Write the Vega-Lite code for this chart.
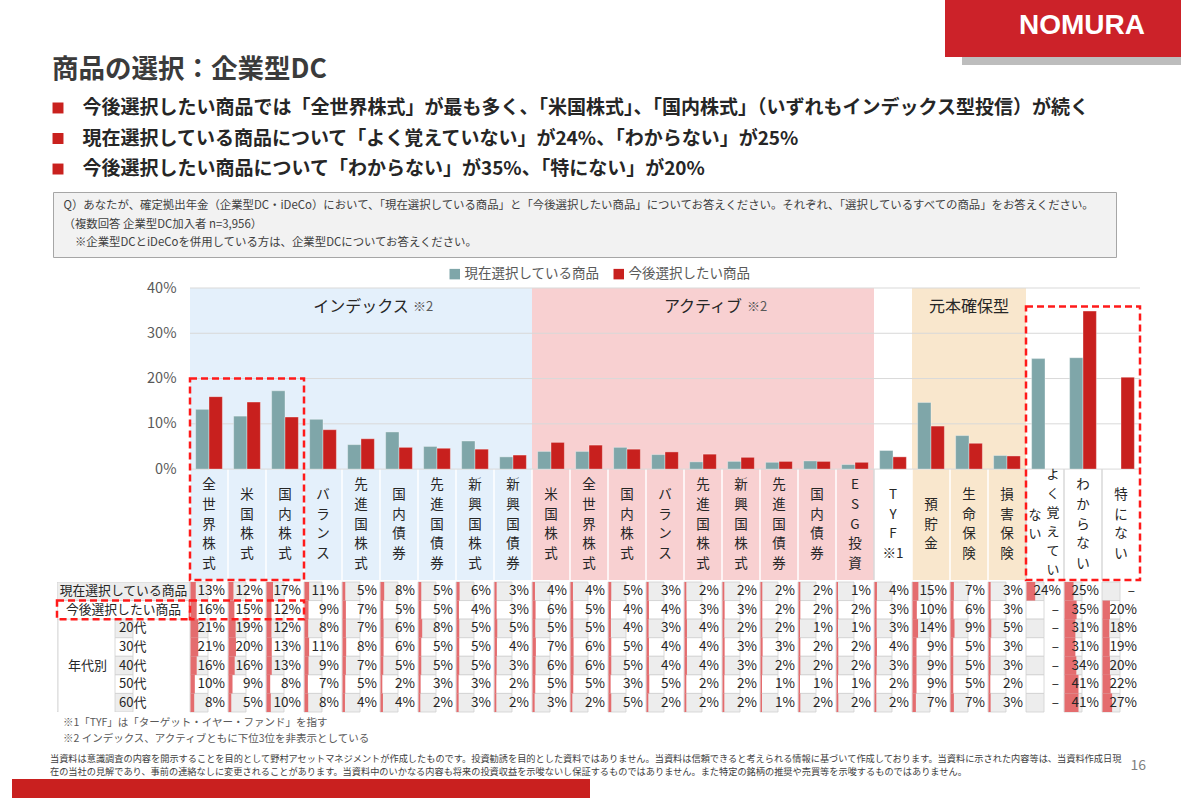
{
"$schema": "https://vega.github.io/schema/vega-lite/v6.json",
"background": "white",
"padding": {"left": 12, "top": 0, "right": 0, "bottom": 0},
"config": {"font": "Noto Sans CJK JP", "view": {"stroke": null}, "axisX": {"disable": true}},
"datasets": {
 "items": [
  {"k":"i1","grp":"idx","lab":"全\n世\n界\n株\n式"},
  {"k":"i2","grp":"idx","lab":"米\n国\n株\n式"},
  {"k":"i3","grp":"idx","lab":"国\n内\n株\n式"},
  {"k":"i4","grp":"idx","lab":"バ\nラ\nン\nス"},
  {"k":"i5","grp":"idx","lab":"先\n進\n国\n株\n式"},
  {"k":"i6","grp":"idx","lab":"国\n内\n債\n券"},
  {"k":"i7","grp":"idx","lab":"先\n進\n国\n債\n券"},
  {"k":"i8","grp":"idx","lab":"新\n興\n国\n株\n式"},
  {"k":"i9","grp":"idx","lab":"新\n興\n国\n債\n券"},
  {"k":"a1","grp":"act","lab":"米\n国\n株\n式"},
  {"k":"a2","grp":"act","lab":"全\n世\n界\n株\n式"},
  {"k":"a3","grp":"act","lab":"国\n内\n株\n式"},
  {"k":"a4","grp":"act","lab":"バ\nラ\nン\nス"},
  {"k":"a5","grp":"act","lab":"先\n進\n国\n株\n式"},
  {"k":"a6","grp":"act","lab":"新\n興\n国\n株\n式"},
  {"k":"a7","grp":"act","lab":"先\n進\n国\n債\n券"},
  {"k":"a8","grp":"act","lab":"国\n内\n債\n券"},
  {"k":"a9","grp":"act","lab":"E\nS\nG\n投\n資"},
  {"k":"t1","grp":"tyf","lab":"T\nY\nF\n※1"},
  {"k":"p1","grp":"prn","lab":"預\n貯\n金"},
  {"k":"p2","grp":"prn","lab":"生\n命\n保\n険"},
  {"k":"p3","grp":"prn","lab":"損\n害\n保\n険"},
  {"k":"o1","grp":"oth","lab":"よ\nく\n覚\nえ\nて\nい","lab2":"な\nい"},
  {"k":"o2","grp":"oth","lab":"わ\nか\nら\nな\nい"},
  {"k":"o3","grp":"oth","lab":"特\nに\nな\nい"}
 ],
 "bars": [
  {"k":"i1","現在選択している商品":13.2,"今後選択したい商品":16.0},
  {"k":"i2","現在選択している商品":11.7,"今後選択したい商品":14.8},
  {"k":"i3","現在選択している商品":17.3,"今後選択したい商品":11.5},
  {"k":"i4","現在選択している商品":11.0,"今後選択したい商品":8.7},
  {"k":"i5","現在選択している商品":5.4,"今後選択したい商品":6.7},
  {"k":"i6","現在選択している商品":8.2,"今後選択したい商品":4.8},
  {"k":"i7","現在選択している商品":5.0,"今後選択したい商品":4.6},
  {"k":"i8","現在選択している商品":6.2,"今後選択したい商品":4.4},
  {"k":"i9","現在選択している商品":2.7,"今後選択したい商品":3.1},
  {"k":"a1","現在選択している商品":3.9,"今後選択したい商品":5.9},
  {"k":"a2","現在選択している商品":3.9,"今後選択したい商品":5.3},
  {"k":"a3","現在選択している商品":4.8,"今後選択したい商品":4.4},
  {"k":"a4","現在選択している商品":3.2,"今後選択したい商品":3.8},
  {"k":"a5","現在選択している商品":1.6,"今後選択したい商品":3.3},
  {"k":"a6","現在選択している商品":1.7,"今後選択したい商品":2.6},
  {"k":"a7","現在選択している商品":1.5,"今後選択したい商品":1.7},
  {"k":"a8","現在選択している商品":1.8,"今後選択したい商品":1.7},
  {"k":"a9","現在選択している商品":1.0,"今後選択したい商品":1.5},
  {"k":"t1","現在選択している商品":4.1,"今後選択したい商品":2.7},
  {"k":"p1","現在選択している商品":14.7,"今後選択したい商品":9.5},
  {"k":"p2","現在選択している商品":7.4,"今後選択したい商品":5.7},
  {"k":"p3","現在選択している商品":3.0,"今後選択したい商品":2.9},
  {"k":"o1","現在選択している商品":24.4,"今後選択したい商品":null},
  {"k":"o2","現在選択している商品":24.6,"今後選択したい商品":34.9},
  {"k":"o3","現在選択している商品":null,"今後選択したい商品":20.3}
 ],
 "table": [
  {"k":"i1","現在選択している商品":0.13,"今後選択したい商品":0.16,"20代":0.21,"30代":0.21,"40代":0.16,"50代":0.10,"60代":0.08},
  {"k":"i2","現在選択している商品":0.12,"今後選択したい商品":0.15,"20代":0.19,"30代":0.20,"40代":0.16,"50代":0.09,"60代":0.05},
  {"k":"i3","現在選択している商品":0.17,"今後選択したい商品":0.12,"20代":0.12,"30代":0.13,"40代":0.13,"50代":0.08,"60代":0.10},
  {"k":"i4","現在選択している商品":0.11,"今後選択したい商品":0.09,"20代":0.08,"30代":0.11,"40代":0.09,"50代":0.07,"60代":0.08},
  {"k":"i5","現在選択している商品":0.05,"今後選択したい商品":0.07,"20代":0.07,"30代":0.08,"40代":0.07,"50代":0.05,"60代":0.04},
  {"k":"i6","現在選択している商品":0.08,"今後選択したい商品":0.05,"20代":0.06,"30代":0.06,"40代":0.05,"50代":0.02,"60代":0.04},
  {"k":"i7","現在選択している商品":0.05,"今後選択したい商品":0.05,"20代":0.08,"30代":0.05,"40代":0.05,"50代":0.03,"60代":0.02},
  {"k":"i8","現在選択している商品":0.06,"今後選択したい商品":0.04,"20代":0.05,"30代":0.05,"40代":0.05,"50代":0.03,"60代":0.03},
  {"k":"i9","現在選択している商品":0.03,"今後選択したい商品":0.03,"20代":0.05,"30代":0.04,"40代":0.03,"50代":0.02,"60代":0.02},
  {"k":"a1","現在選択している商品":0.04,"今後選択したい商品":0.06,"20代":0.05,"30代":0.07,"40代":0.06,"50代":0.05,"60代":0.03},
  {"k":"a2","現在選択している商品":0.04,"今後選択したい商品":0.05,"20代":0.05,"30代":0.06,"40代":0.06,"50代":0.05,"60代":0.02},
  {"k":"a3","現在選択している商品":0.05,"今後選択したい商品":0.04,"20代":0.04,"30代":0.05,"40代":0.05,"50代":0.03,"60代":0.05},
  {"k":"a4","現在選択している商品":0.03,"今後選択したい商品":0.04,"20代":0.03,"30代":0.04,"40代":0.04,"50代":0.05,"60代":0.02},
  {"k":"a5","現在選択している商品":0.02,"今後選択したい商品":0.03,"20代":0.04,"30代":0.04,"40代":0.04,"50代":0.02,"60代":0.02},
  {"k":"a6","現在選択している商品":0.02,"今後選択したい商品":0.03,"20代":0.02,"30代":0.03,"40代":0.03,"50代":0.02,"60代":0.02},
  {"k":"a7","現在選択している商品":0.02,"今後選択したい商品":0.02,"20代":0.02,"30代":0.03,"40代":0.02,"50代":0.01,"60代":0.01},
  {"k":"a8","現在選択している商品":0.02,"今後選択したい商品":0.02,"20代":0.01,"30代":0.02,"40代":0.02,"50代":0.01,"60代":0.02},
  {"k":"a9","現在選択している商品":0.01,"今後選択したい商品":0.02,"20代":0.01,"30代":0.02,"40代":0.02,"50代":0.01,"60代":0.02},
  {"k":"t1","現在選択している商品":0.04,"今後選択したい商品":0.03,"20代":0.03,"30代":0.04,"40代":0.03,"50代":0.02,"60代":0.02},
  {"k":"p1","現在選択している商品":0.15,"今後選択したい商品":0.10,"20代":0.14,"30代":0.09,"40代":0.09,"50代":0.09,"60代":0.07},
  {"k":"p2","現在選択している商品":0.07,"今後選択したい商品":0.06,"20代":0.09,"30代":0.05,"40代":0.05,"50代":0.05,"60代":0.07},
  {"k":"p3","現在選択している商品":0.03,"今後選択したい商品":0.03,"20代":0.05,"30代":0.03,"40代":0.03,"50代":0.02,"60代":0.03},
  {"k":"o1","現在選択している商品":0.24,"今後選択したい商品":null,"20代":null,"30代":null,"40代":null,"50代":null,"60代":null},
  {"k":"o2","現在選択している商品":0.25,"今後選択したい商品":0.35,"20代":0.31,"30代":0.31,"40代":0.34,"50代":0.41,"60代":0.41},
  {"k":"o3","現在選択している商品":null,"今後選択したい商品":0.20,"20代":0.18,"30代":0.19,"40代":0.20,"50代":0.22,"60代":0.27}
 ],
 "grid": [{"t":0},{"t":10},{"t":20},{"t":30},{"t":40}],
 "groups": [{"k":"i5","g":"インデックス","n":"※2"},{"k":"a5","g":"アクティブ","n":"※2"},{"k":"p2","g":"元本確保型","n":""}],
 "hdr": [
  {"row":"現在選択している商品","c":"top"},
  {"row":"今後選択したい商品","c":"top"},
  {"row":"20代","c":"age"},
  {"row":"30代","c":"age"},
  {"row":"40代","c":"age"},
  {"row":"50代","c":"age"},
  {"row":"60代","c":"age"}
 ],
 "grpcell": [{"c":"grp","from":"20代","to":"60代","mid":"40代","lab":"年代別"}]
},
"spacing": 0,
"resolve": {"scale": {"x": "independent", "y": "independent", "xOffset": "independent", "size": "independent", "color": "independent", "fill": "independent"}},
"vconcat": [
 {
  "spacing": -9,
  "resolve": {"scale": {"x": "independent", "y": "independent"}},
  "vconcat": [
   {
    "spacing": 0,
    "hconcat": [
     {"width": 933, "height": 57, "data": {"values": []}, "mark": {"type": "point", "opacity": 0}},
     {
      "spacing": 0,
      "vconcat": [
       {"width": 236, "height": 57, "view": {"fill": "#cc2229"}, "data": {"values": [{"n": "NOMURA"}]},
        "mark": {"type": "text", "color": "#ffffff", "fontSize": 28, "fontWeight": "bold", "font": "Liberation Sans", "dx": 19, "dy": -3},
        "encoding": {"text": {"field": "n", "type": "nominal"}}},
       {
        "spacing": 0,
        "hconcat": [
         {"width": 17, "height": 8, "data": {"values": []}, "mark": {"type": "point", "opacity": 0}},
         {"width": 219, "height": 8, "view": {"fill": "#bdbdbd"}, "data": {"values": []}, "mark": {"type": "point", "opacity": 0}}
        ]
       }
      ]
     }
    ]
   },
   {
    "width": 92, "height": 105,
    "title": {"text": "商品の選択：企業型DC", "anchor": "start", "frame": "group", "dx": 40, "fontSize": 26.5, "fontWeight": "bold", "color": "#3b3b3b", "offset": 3},
    "data": {"values": [
     {"b": "今後選択したい商品では「全世界株式」が最も多く、「米国株式」、「国内株式」（いずれもインデックス型投信）が続く"},
     {"b": "現在選択している商品について「よく覚えていない」が24%、「わからない」が25%"},
     {"b": "今後選択したい商品について「わからない」が35%、「特にない」が20%"}
    ]},
    "mark": {"type": "square", "size": 120, "color": "#c9211e", "opacity": 1},
    "encoding": {
     "y": {"field": "b", "type": "nominal", "sort": null,
      "scale": {"type": "band", "paddingInner": 0, "paddingOuter": 0.22},
      "axis": {"title": null, "domain": false, "ticks": false, "tickSize": 0, "labelAlign": "left", "labelPadding": -70, "labelFontSize": 19, "labelFontWeight": "bold", "labelColor": "#262626", "labelLimit": 0}}
    }
   }
  ]
 },
 {
  "spacing": 0,
  "hconcat": [
   {"width": 40, "height": 75, "data": {"values": []}, "mark": {"type": "point", "opacity": 0}},
   {
    "width": 1063, "height": 65,
    "view": {"fill": "#f2f2f2", "stroke": "#a6a6a6", "strokeWidth": 1},
    "data": {"values": [
     {"q": "Q）あなたが、確定拠出年金（企業型DC・iDeCo）において、「現在選択している商品」と「今後選択したい商品」についてお答えください。それぞれ、「選択しているすべての商品」をお答えください。"},
     {"q": "（複数回答 企業型DC加入者 n=3,956）"},
     {"q": "\u200b\u3000※企業型DCとiDeCoを併用している方は、企業型DCについてお答えください。"}
    ]},
    "mark": {"type": "text", "text": ""},
    "encoding": {
     "y": {"field": "q", "type": "nominal", "sort": null,
      "scale": {"type": "band", "paddingInner": 0, "paddingOuter": 0.3},
      "axis": {"title": null, "domain": false, "ticks": false, "tickSize": 0, "labelAlign": "left", "labelPadding": -10, "labelFontSize": 11.4, "labelColor": "#404040", "labelLimit": 0}}
    }
   }
  ]
 },
 {
  "spacing": -6,
  "resolve": {"scale": {"x": "independent", "y": "independent", "fill": "independent", "color": "independent", "xOffset": "independent", "size": "independent"}},
  "vconcat": [
   {
    "spacing": 0,
    "resolve": {"scale": {"x": "independent", "y": "independent"}},
    "hconcat": [
     {"width": 128, "height": 1, "data": {"values": []}, "mark": {"type": "point", "opacity": 0}},
     {
      "width": 950, "height": 292,
      "layer": [
       {
        "data": {"name": "items"},
        "mark": {"type": "rect"},
        "encoding": {
         "x": {"field": "k", "type": "nominal", "scale": {"domain": ["i1","i2","i3","i4","i5","i6","i7","i8","i9","a1","a2","a3","a4","a5","a6","a7","a8","a9","t1","p1","p2","p3","o1","o2","o3"], "paddingInner": 0, "paddingOuter": 0}},
         "y": {"datum": 40, "type": "quantitative", "scale": {"domain": [-24.5, 40], "nice": false, "zero": false},
          "axis": {"values": [0, 10, 20, 30, 40], "labelExpr": "datum.value + '%'", "grid": false, "domain": false, "ticks": false, "tickSize": 0, "labelPadding": 14, "labelFontSize": 14.5, "labelColor": "#595959", "title": null, "minExtent": 50, "maxExtent": 50}},
         "y2": {"datum": -24.5},
         "fill": {"field": "grp", "type": "nominal", "scale": {"domain": ["idx","act","tyf","prn","oth"], "range": ["#e4f0fb","#f8d0d1","#ffffff","#f9e7cd","#ffffff"]}, "legend": null}
        }
       },
       {
        "data": {"name": "items"},
        "mark": {"type": "rule", "strokeWidth": 1.5},
        "encoding": {
         "x": {"field": "k", "type": "nominal", "bandPosition": 0},
         "y": {"datum": 0, "type": "quantitative"},
         "y2": {"datum": -24.5},
         "color": {"condition": {"test": "datum.grp == 'tyf' || datum.grp == 'oth'", "value": "#d9d9d9"}, "value": "#ffffff"}
        }
       },
       {
        "data": {"name": "grid"},
        "mark": {"type": "rule", "color": "#d9d9d9", "strokeWidth": 1},
        "encoding": {"y": {"field": "t", "type": "quantitative"}}
       },
       {
        "data": {"name": "bars"},
        "transform": [{"fold": ["現在選択している商品", "今後選択したい商品"], "as": ["s", "v"]}],
        "mark": {"type": "bar", "stroke": "#ffffff", "strokeWidth": 0.6, "strokeOpacity": 0.6},
        "encoding": {
         "x": {"field": "k", "type": "nominal"},
         "xOffset": {"field": "s", "type": "nominal", "scale": {"domain": ["現在選択している商品", "今後選択したい商品"], "paddingInner": 0, "paddingOuter": 0.42}},
         "y": {"field": "v", "type": "quantitative"},
         "color": {"field": "s", "type": "nominal", "scale": {"domain": ["現在選択している商品", "今後選択したい商品"], "range": ["#7fa6a9", "#c8201e"]},
          "legend": {"orient": "none", "legendX": 436, "legendY": -21, "direction": "horizontal", "title": null, "symbolType": "square", "symbolSize": 110, "symbolStrokeWidth": 0, "labelFontSize": 13.5, "labelColor": "#595959", "columnPadding": 12, "labelOffset": 3}}
        }
       },
       {
        "data": {"name": "items"},
        "transform": [{"filter": "datum.k != 'o1' && split(datum.lab, '\\n').length == 3"}],
        "mark": {"type": "text", "lineBreak": "\n", "lineHeight": 19.6, "fontSize": 13.5, "baseline": "middle", "color": "#262626", "dy": -19.6, "clip": true},
        "encoding": {
         "x": {"field": "k", "type": "nominal"},
         "y": {"datum": -12.25, "type": "quantitative"},
         "text": {"field": "lab", "type": "nominal"}
        }
       },
       {
        "data": {"name": "items"},
        "transform": [{"filter": "datum.k != 'o1' && split(datum.lab, '\\n').length == 4"}],
        "mark": {"type": "text", "lineBreak": "\n", "lineHeight": 19.6, "fontSize": 13.5, "baseline": "middle", "color": "#262626", "dy": -29.4, "clip": true},
        "encoding": {
         "x": {"field": "k", "type": "nominal"},
         "y": {"datum": -12.25, "type": "quantitative"},
         "text": {"field": "lab", "type": "nominal"}
        }
       },
       {
        "data": {"name": "items"},
        "transform": [{"filter": "datum.k != 'o1' && split(datum.lab, '\\n').length == 5"}],
        "mark": {"type": "text", "lineBreak": "\n", "lineHeight": 19.6, "fontSize": 13.5, "baseline": "middle", "color": "#262626", "dy": -39.2, "clip": true},
        "encoding": {
         "x": {"field": "k", "type": "nominal"},
         "y": {"datum": -12.25, "type": "quantitative"},
         "text": {"field": "lab", "type": "nominal"}
        }
       },
       {
        "data": {"name": "items"},
        "transform": [{"filter": "datum.k == 'o1'"}],
        "mark": {"type": "text", "lineBreak": "\n", "lineHeight": 18.9, "fontSize": 13, "baseline": "middle", "color": "#262626", "dx": 8, "dy": -49.5, "clip": true},
        "encoding": {
         "x": {"field": "k", "type": "nominal"},
         "y": {"datum": -12.25, "type": "quantitative"},
         "text": {"field": "lab", "type": "nominal"}
        }
       },
       {
        "data": {"name": "items"},
        "transform": [{"filter": "datum.k == 'o1'"}],
        "mark": {"type": "text", "lineBreak": "\n", "lineHeight": 18.9, "fontSize": 13, "baseline": "middle", "color": "#262626", "dx": -10, "dy": -9.45, "clip": true},
        "encoding": {
         "x": {"field": "k", "type": "nominal"},
         "y": {"datum": -12.25, "type": "quantitative"},
         "text": {"field": "lab2", "type": "nominal"}
        }
       },
       {
        "data": {"name": "groups"},
        "mark": {"type": "text", "fontSize": 16, "baseline": "middle", "color": "#262626"},
        "encoding": {
         "x": {"field": "k", "type": "nominal"},
         "y": {"datum": 35.8, "type": "quantitative"},
         "text": {"field": "g", "type": "nominal"}
        }
       },
       {
        "data": {"name": "groups"},
        "transform": [{"filter": "datum.k == 'i5'"}],
        "mark": {"type": "text", "fontSize": 13, "baseline": "middle", "align": "left", "dx": 52, "color": "#595959"},
        "encoding": {
         "x": {"field": "k", "type": "nominal"},
         "y": {"datum": 35.8, "type": "quantitative"},
         "text": {"field": "n", "type": "nominal"}
        }
       },
       {
        "data": {"name": "groups"},
        "transform": [{"filter": "datum.k == 'a5'"}],
        "mark": {"type": "text", "fontSize": 13, "baseline": "middle", "align": "left", "dx": 44, "color": "#595959"},
        "encoding": {
         "x": {"field": "k", "type": "nominal"},
         "y": {"datum": 35.8, "type": "quantitative"},
         "text": {"field": "n", "type": "nominal"}
        }
       },
       {
        "data": {"values": [{"from": "i1", "to": "i3"}]},
        "mark": {"type": "rect", "filled": false, "color": "#ff1a1a", "strokeWidth": 2.5, "strokeDash": [7, 4]},
        "encoding": {
         "x": {"field": "from", "type": "nominal", "bandPosition": 0},
         "x2": {"field": "to", "bandPosition": 1},
         "y": {"datum": 20, "type": "quantitative"},
         "y2": {"datum": -24.5}
        }
       },
       {
        "data": {"values": [{"from": "o1", "to": "o3"}]},
        "mark": {"type": "rect", "filled": false, "color": "#ff1a1a", "strokeWidth": 2.5, "strokeDash": [7, 4]},
        "encoding": {
         "x": {"field": "from", "type": "nominal", "bandPosition": 0},
         "x2": {"field": "to", "bandPosition": 1},
         "y": {"datum": 35.9, "type": "quantitative"},
         "y2": {"datum": -24.5}
        }
       }
      ]
     }
    ]
   },
   {
    "spacing": 0,
    "bounds": "flush",
    "resolve": {"scale": {"x": "independent", "y": "independent", "fill": "independent"}},
    "hconcat": [
     {"width": 45, "height": 173, "data": {"values": []}, "mark": {"type": "point", "opacity": 0}},
     {
      "width": 133, "height": 130,
      "title": {"text": ["※1「TYF」は「ターゲット・イヤー・ファンド」を指す", "※2 インデックス、アクティブともに下位3位を非表示としている"], "orient": "bottom", "anchor": "start", "frame": "group", "dx": 6, "fontSize": 10.5, "fontWeight": "normal", "color": "#595959", "lineHeight": 16, "offset": 6},
      "layer": [
       {
        "data": {"name": "hdr"},
        "transform": [{"filter": "datum.c == 'top'"}],
        "mark": {"type": "rect", "stroke": "#d0d0d0", "strokeWidth": 0.8, "clip": true},
        "encoding": {
         "y": {"field": "row", "type": "nominal", "scale": {"domain": ["現在選択している商品","今後選択したい商品","20代","30代","40代","50代","60代"], "paddingInner": 0, "paddingOuter": 0}, "axis": null},
         "fill": {"field": "row", "type": "nominal", "scale": {"domain": ["現在選択している商品","今後選択したい商品","20代","30代","40代","50代","60代"], "range": ["#ededed","#ffffff","#ededed","#ffffff","#ededed","#ffffff","#ededed"]}, "legend": null}
        }
       },
       {
        "data": {"name": "hdr"},
        "transform": [{"filter": "datum.c == 'age'"}],
        "mark": {"type": "rect", "stroke": "#d0d0d0", "strokeWidth": 0.8, "clip": true},
        "encoding": {
         "x": {"field": "c", "type": "nominal", "scale": {"domain": ["grp", "age"], "range": [-17, 133], "paddingInner": 0, "paddingOuter": 0}},
         "y": {"field": "row", "type": "nominal", "axis": null},
         "fill": {"field": "row", "type": "nominal", "legend": null}
        }
       },
       {
        "data": {"name": "grpcell"},
        "mark": {"type": "rect", "fill": "#ededed", "stroke": "#d0d0d0", "strokeWidth": 0.8, "clip": true},
        "encoding": {
         "x": {"field": "c", "type": "nominal"},
         "y": {"field": "from", "type": "nominal", "bandPosition": 0, "axis": null},
         "y2": {"field": "to", "bandPosition": 1}
        }
       },
       {
        "data": {"name": "hdr"},
        "transform": [{"filter": "datum.c == 'top'"}],
        "mark": {"type": "text", "fontSize": 12.8, "color": "#262626"},
        "encoding": {
         "y": {"field": "row", "type": "nominal", "axis": null},
         "text": {"field": "row", "type": "nominal"}
        }
       },
       {
        "data": {"name": "hdr"},
        "transform": [{"filter": "datum.c == 'age'"}],
        "mark": {"type": "text", "fontSize": 13, "align": "left", "dx": 4, "color": "#262626"},
        "encoding": {
         "x": {"field": "c", "type": "nominal", "bandPosition": 0},
         "y": {"field": "row", "type": "nominal", "axis": null},
         "text": {"field": "row", "type": "nominal"}
        }
       },
       {
        "data": {"name": "grpcell"},
        "mark": {"type": "text", "fontSize": 13, "dx": 10, "color": "#262626"},
        "encoding": {
         "x": {"field": "c", "type": "nominal"},
         "y": {"field": "mid", "type": "nominal", "axis": null},
         "text": {"field": "lab", "type": "nominal"}
        }
       },
       {
        "data": {"values": [{"row": "今後選択したい商品"}]},
        "mark": {"type": "rect", "filled": false, "color": "#ff1a1a", "strokeWidth": 2.5, "strokeDash": [7, 4]},
        "encoding": {"y": {"field": "row", "type": "nominal", "axis": null}}
       }
      ]
     },
     {
      "width": 950, "height": 130,
      "layer": [
       {
        "data": {"name": "table"},
        "transform": [{"fold": ["現在選択している商品","今後選択したい商品","20代","30代","40代","50代","60代"], "as": ["row", "v"]}],
        "mark": {"type": "rect", "stroke": "#d0d0d0", "strokeWidth": 0.8},
        "encoding": {
         "x": {"field": "k", "type": "nominal", "scale": {"domain": ["i1","i2","i3","i4","i5","i6","i7","i8","i9","a1","a2","a3","a4","a5","a6","a7","a8","a9","t1","p1","p2","p3","o1","o2","o3"], "paddingInner": 0, "paddingOuter": 0}},
         "y": {"field": "row", "type": "nominal", "scale": {"domain": ["現在選択している商品","今後選択したい商品","20代","30代","40代","50代","60代"], "paddingInner": 0, "paddingOuter": 0}, "axis": null},
         "fill": {"field": "row", "type": "nominal", "scale": {"domain": ["現在選択している商品","今後選択したい商品","20代","30代","40代","50代","60代"], "range": ["#ededed","#ffffff","#ededed","#ffffff","#ededed","#ffffff","#ededed"]}, "legend": null}
        }
       },
       {
        "data": {"name": "table"},
        "transform": [{"fold": ["現在選択している商品","今後選択したい商品","20代","30代","40代","50代","60代"], "as": ["row", "v"]}, {"filter": "datum.v != null"}],
        "mark": {"type": "rule", "color": "#e46c6e", "strokeCap": "butt"},
        "encoding": {
         "x": {"field": "k", "type": "nominal", "bandPosition": 0},
         "xOffset": {"field": "v", "type": "quantitative", "scale": {"domain": [0, 0.41], "range": [1.1, 7.5]}},
         "y": {"field": "row", "type": "nominal", "bandPosition": 0, "axis": null},
         "y2": {"field": "row", "bandPosition": 1},
         "size": {"field": "v", "type": "quantitative", "scale": {"domain": [0, 0.41], "range": [1.2, 14]}, "legend": null}
        }
       },
       {
        "data": {"name": "table"},
        "transform": [{"fold": ["現在選択している商品","今後選択したい商品","20代","30代","40代","50代","60代"], "as": ["row", "v"]}, {"filter": "datum.v != null"}],
        "mark": {"type": "text", "fontSize": 13.5, "align": "right", "dx": -3, "color": "#262626"},
        "encoding": {
         "x": {"field": "k", "type": "nominal", "bandPosition": 1},
         "y": {"field": "row", "type": "nominal", "axis": null},
         "text": {"field": "v", "type": "quantitative", "format": ".0%"}
        }
       },
       {
        "data": {"name": "table"},
        "transform": [{"fold": ["現在選択している商品","今後選択したい商品","20代","30代","40代","50代","60代"], "as": ["row", "v"]}, {"filter": "datum.v == null"}],
        "mark": {"type": "text", "fontSize": 13.5, "align": "right", "dx": -5, "color": "#262626", "text": "–"},
        "encoding": {
         "x": {"field": "k", "type": "nominal", "bandPosition": 1},
         "y": {"field": "row", "type": "nominal", "axis": null}
        }
       },
       {
        "data": {"values": [{"from": "i1", "to": "i3", "row": "今後選択したい商品"}]},
        "mark": {"type": "rect", "filled": false, "color": "#ff1a1a", "strokeWidth": 2.5, "strokeDash": [7, 4]},
        "encoding": {
         "x": {"field": "from", "type": "nominal", "bandPosition": 0},
         "x2": {"field": "to", "bandPosition": 1},
         "y": {"field": "row", "type": "nominal", "axis": null}
        }
       }
      ]
     }
    ]
   }
  ]
 },
 {
  "spacing": 0,
  "bounds": "flush",
  "hconcat": [
   {
    "width": 578, "height": 19,
    "view": {"fill": "#c9201f"},
    "data": {"values": [{}]},
    "mark": {"type": "text", "text": ""},
    "title": {
     "text": ["当資料は意識調査の内容を開示することを目的として野村アセットマネジメントが作成したものです。投資勧誘を目的とした資料ではありません。当資料は信頼できると考えられる情報に基づいて作成しております。当資料に示された内容等は、当資料作成日現", "在の当社の見解であり、事前の連絡なしに変更されることがあります。当資料中のいかなる内容も将来の投資収益を示唆ないし保証するものではありません。また特定の銘柄の推奨や売買等を示唆するものではありません。"],
     "anchor": "start", "frame": "group", "dx": 38, "fontSize": 9.2, "fontWeight": "normal", "color": "#404040", "lineHeight": 13, "offset": 1.5
    }
   },
   {
    "width": 556, "height": 19,
    "data": {"values": [{}]},
    "mark": {"type": "text", "text": ""},
    "title": {"text": "16", "anchor": "end", "frame": "group", "fontSize": 14, "fontWeight": "normal", "color": "#7f7f7f", "offset": 6}
   }
  ]
 }
]
}
